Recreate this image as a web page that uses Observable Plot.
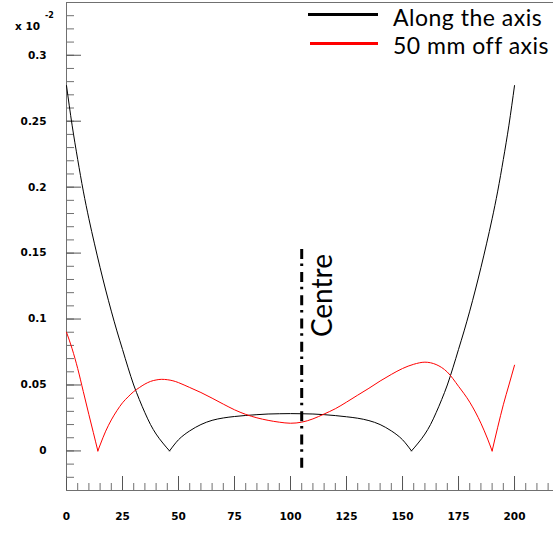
<!DOCTYPE html>
<html>
<head>
<meta charset="utf-8">
<script src="https://cdn.jsdelivr.net/npm/d3@7"></script>
<script src="https://cdn.jsdelivr.net/npm/@observablehq/plot@0.6"></script>
<style>
  body { margin: 0; background: #fff; }
  #wrap { position: relative; width: 553px; height: 533px; overflow: hidden; background: #fff; }
  #wrap svg { position: absolute; left: 0; top: 0; }
  .abs { position: absolute; white-space: nowrap; }
  .legtxt { font-family: "Lato", sans-serif; font-size: 23px; line-height: 23px; letter-spacing: 0.5px; color: #000; }
  .exp { font-family: "DejaVu Sans", sans-serif; font-weight: bold; color: #000; }
</style>
</head>
<body>
<div id="wrap"></div>
<script>
// ---- data (values in units of 10^-2) ----
const alongX = [0,2.5,5,7.5,10,12.5,15,17.5,20,22.5,25,27.5,30,32.5,35,37.5,40,43,46,
  48,50,52.5,55,57.5,60,65,70,75,80,85,90,95,100,105,110,115,120,125,130,135,140,142.5,145,147.5,150,152,154,
  157,160,162.5,165,167.5,170,172.5,175,177.5,180,182.5,185,187.5,190,192.5,195,197.5,200];
const alongV = [0.277,0.247,0.221,0.197,0.176,0.157,0.139,0.122,0.106,0.091,0.077,0.063,0.050,0.039,0.029,0.020,0.0128,0.006,0,
  0.0045,0.0085,0.0122,0.0152,0.0178,0.020,0.0232,0.025,0.0261,0.0269,0.0275,0.028,0.0282,0.0283,0.0282,0.028,0.0275,0.0268,0.0259,0.0248,0.023,0.020,0.0178,0.0152,0.0122,0.0085,0.0045,0,
  0.006,0.0128,0.020,0.029,0.039,0.050,0.063,0.077,0.091,0.106,0.122,0.139,0.157,0.176,0.197,0.221,0.247,0.277];

const offX = [0,2.5,5,7.5,10,12,14,15,17.5,20,22.5,25,27.5,30,32.5,35,37.5,40,42.5,45,47.5,50,52.5,
  55,60,65,70,75,80,85,90,95,100,105,110,115,120,125,130,135,140,145,150,155,160,165,170,175,180,185,188,190,
  192.5,195,197.5,200];
const offV = [0.090,0.0775,0.0625,0.045,0.0275,0.0138,0,0.0045,0.015,0.0235,0.0305,0.0365,0.041,0.045,0.048,0.0507,0.0527,0.0538,0.0543,0.054,0.0532,0.0518,0.050,
  0.0481,0.0443,0.040,0.0355,0.0312,0.0277,0.0251,0.0232,0.0218,0.021,0.0218,0.0243,0.028,0.032,0.037,0.0423,0.0475,0.053,0.058,0.0625,0.0657,0.0673,0.0655,0.0598,0.049,0.037,0.021,0.009,0,
  0.018,0.035,0.050,0.065];

const seriesNames = ["Along the axis", "50 mm off axis"];
const seriesColors = ["#000000", "#ff0000"];

const xMajorTicks = [0,25,50,75,100,125,150,175,200];
const xMinorTicks = d3.range(0, 44).map(i => i * 5);
const yMajorTicks = [0,0.05,0.1,0.15,0.2,0.25,0.3];
const yMinorTicks = d3.range(-3, 35).map(i => i / 100);

const centreX = 105;
const centreY1 = -0.0131;
const centreY2 = 0.1545;
const centreLabelY = 0.1178;
const centreLabel = "Centre";

const xDomain = [0, 217.4];
const yDomain = [-0.03, 0.34];

// ---- build rows, splitting each series into branches at its zero cusps ----
function buildRows(xs, vs, name) {
  const rows = [];
  let seg = 0;
  xs.forEach((x, i) => {
    rows.push({x, v: vs[i], series: name, seg: name + seg});
    if (vs[i] === 0 && i > 0 && i < xs.length - 1) {
      seg++;
      rows.push({x, v: vs[i], series: name, seg: name + seg});
    }
  });
  return rows;
}
const rowsAlong = buildRows(alongX, alongV, seriesNames[0]);
const rowsOff = buildRows(offX, offV, seriesNames[1]);

const W = 553, H = 533, ML = 66, MR = 0, MT = 2, MB = 43;
const plotW = W - ML - MR, plotH = H - MT - MB;
const axisGrey = "#707070";

const chart = Plot.plot({
  width: W, height: H,
  marginLeft: ML, marginRight: MR, marginTop: MT, marginBottom: MB,
  x: {domain: xDomain},
  y: {domain: yDomain},
  style: {fontFamily: "DejaVu Sans, sans-serif", fontSize: "10.5px", fontWeight: "bold", color: "#000", background: "#fff"},
  marks: [
    // frame lines
    Plot.ruleX([xDomain[0]], {stroke: axisGrey}),
    Plot.ruleY(yDomain, {stroke: axisGrey}),
    // minor / major ticks (inward)
    Plot.tickX(xMinorTicks, {x: d => d, stroke: axisGrey, insetTop: plotH - 7}),
    Plot.tickX(xMajorTicks, {x: d => d, stroke: "#555", insetTop: plotH - 14}),
    Plot.tickY(yMinorTicks, {y: d => d, stroke: axisGrey, insetRight: plotW - 8}),
    Plot.tickY(yMajorTicks, {y: d => d, stroke: "#555", insetRight: plotW - 15}),
    // tick labels
    Plot.axisX(xMajorTicks, {tickSize: 0, tickPadding: 22, tickFormat: d => String(d), label: null}),
    Plot.axisY(yMajorTicks, {tickSize: 0, tickPadding: 20, tickFormat: d => String(d), label: null}),
    // curves
    Plot.line(rowsAlong, {x: "x", y: "v", z: "seg", stroke: seriesColors[0], strokeWidth: 1, curve: "monotone-x"}),
    Plot.line(rowsOff, {x: "x", y: "v", z: "seg", stroke: seriesColors[1], strokeWidth: 1, curve: "monotone-x"}),
    // centre annotation
    Plot.ruleX([centreX], {y1: centreY1, y2: centreY2, stroke: "#000", strokeWidth: 3, strokeDasharray: "10,6,2.5,4.7"}),
    Plot.text([centreLabel], {x: centreX, y: centreLabelY, text: d => d, rotate: -90, dx: 21,
      fontFamily: "Lato, sans-serif", fontSize: 28, fontWeight: "normal", fill: "#000"})
  ]
});

const wrap = document.getElementById("wrap");
wrap.appendChild(chart);

// exponent label
const e1 = document.createElement("div");
e1.className = "abs exp";
e1.style.cssText = "left:15px;top:19px;font-size:10.5px;line-height:14px;";
e1.textContent = "x 10";
wrap.appendChild(e1);
const e2 = document.createElement("div");
e2.className = "abs exp";
e2.style.cssText = "left:45px;top:11px;font-size:8px;line-height:10px;";
e2.textContent = "-2";
wrap.appendChild(e2);

// legend
const legendLayout = [{lineTop: 13.3, textTop: 5.6, left: 308, width: 70}, {lineTop: 42, textTop: 33.6, left: 310, width: 68}];
seriesNames.forEach((name, i) => {
  const L = legendLayout[i];
  const ln = document.createElement("div");
  ln.className = "abs";
  ln.style.cssText = `left:${L.left}px;top:${L.lineTop}px;width:${L.width}px;height:2.7px;background:${seriesColors[i]};`;
  wrap.appendChild(ln);
  const tx = document.createElement("div");
  tx.className = "abs legtxt";
  tx.style.cssText = `left:393px;top:${L.textTop}px;`;
  tx.textContent = name;
  wrap.appendChild(tx);
});
</script>
</body>
</html>
